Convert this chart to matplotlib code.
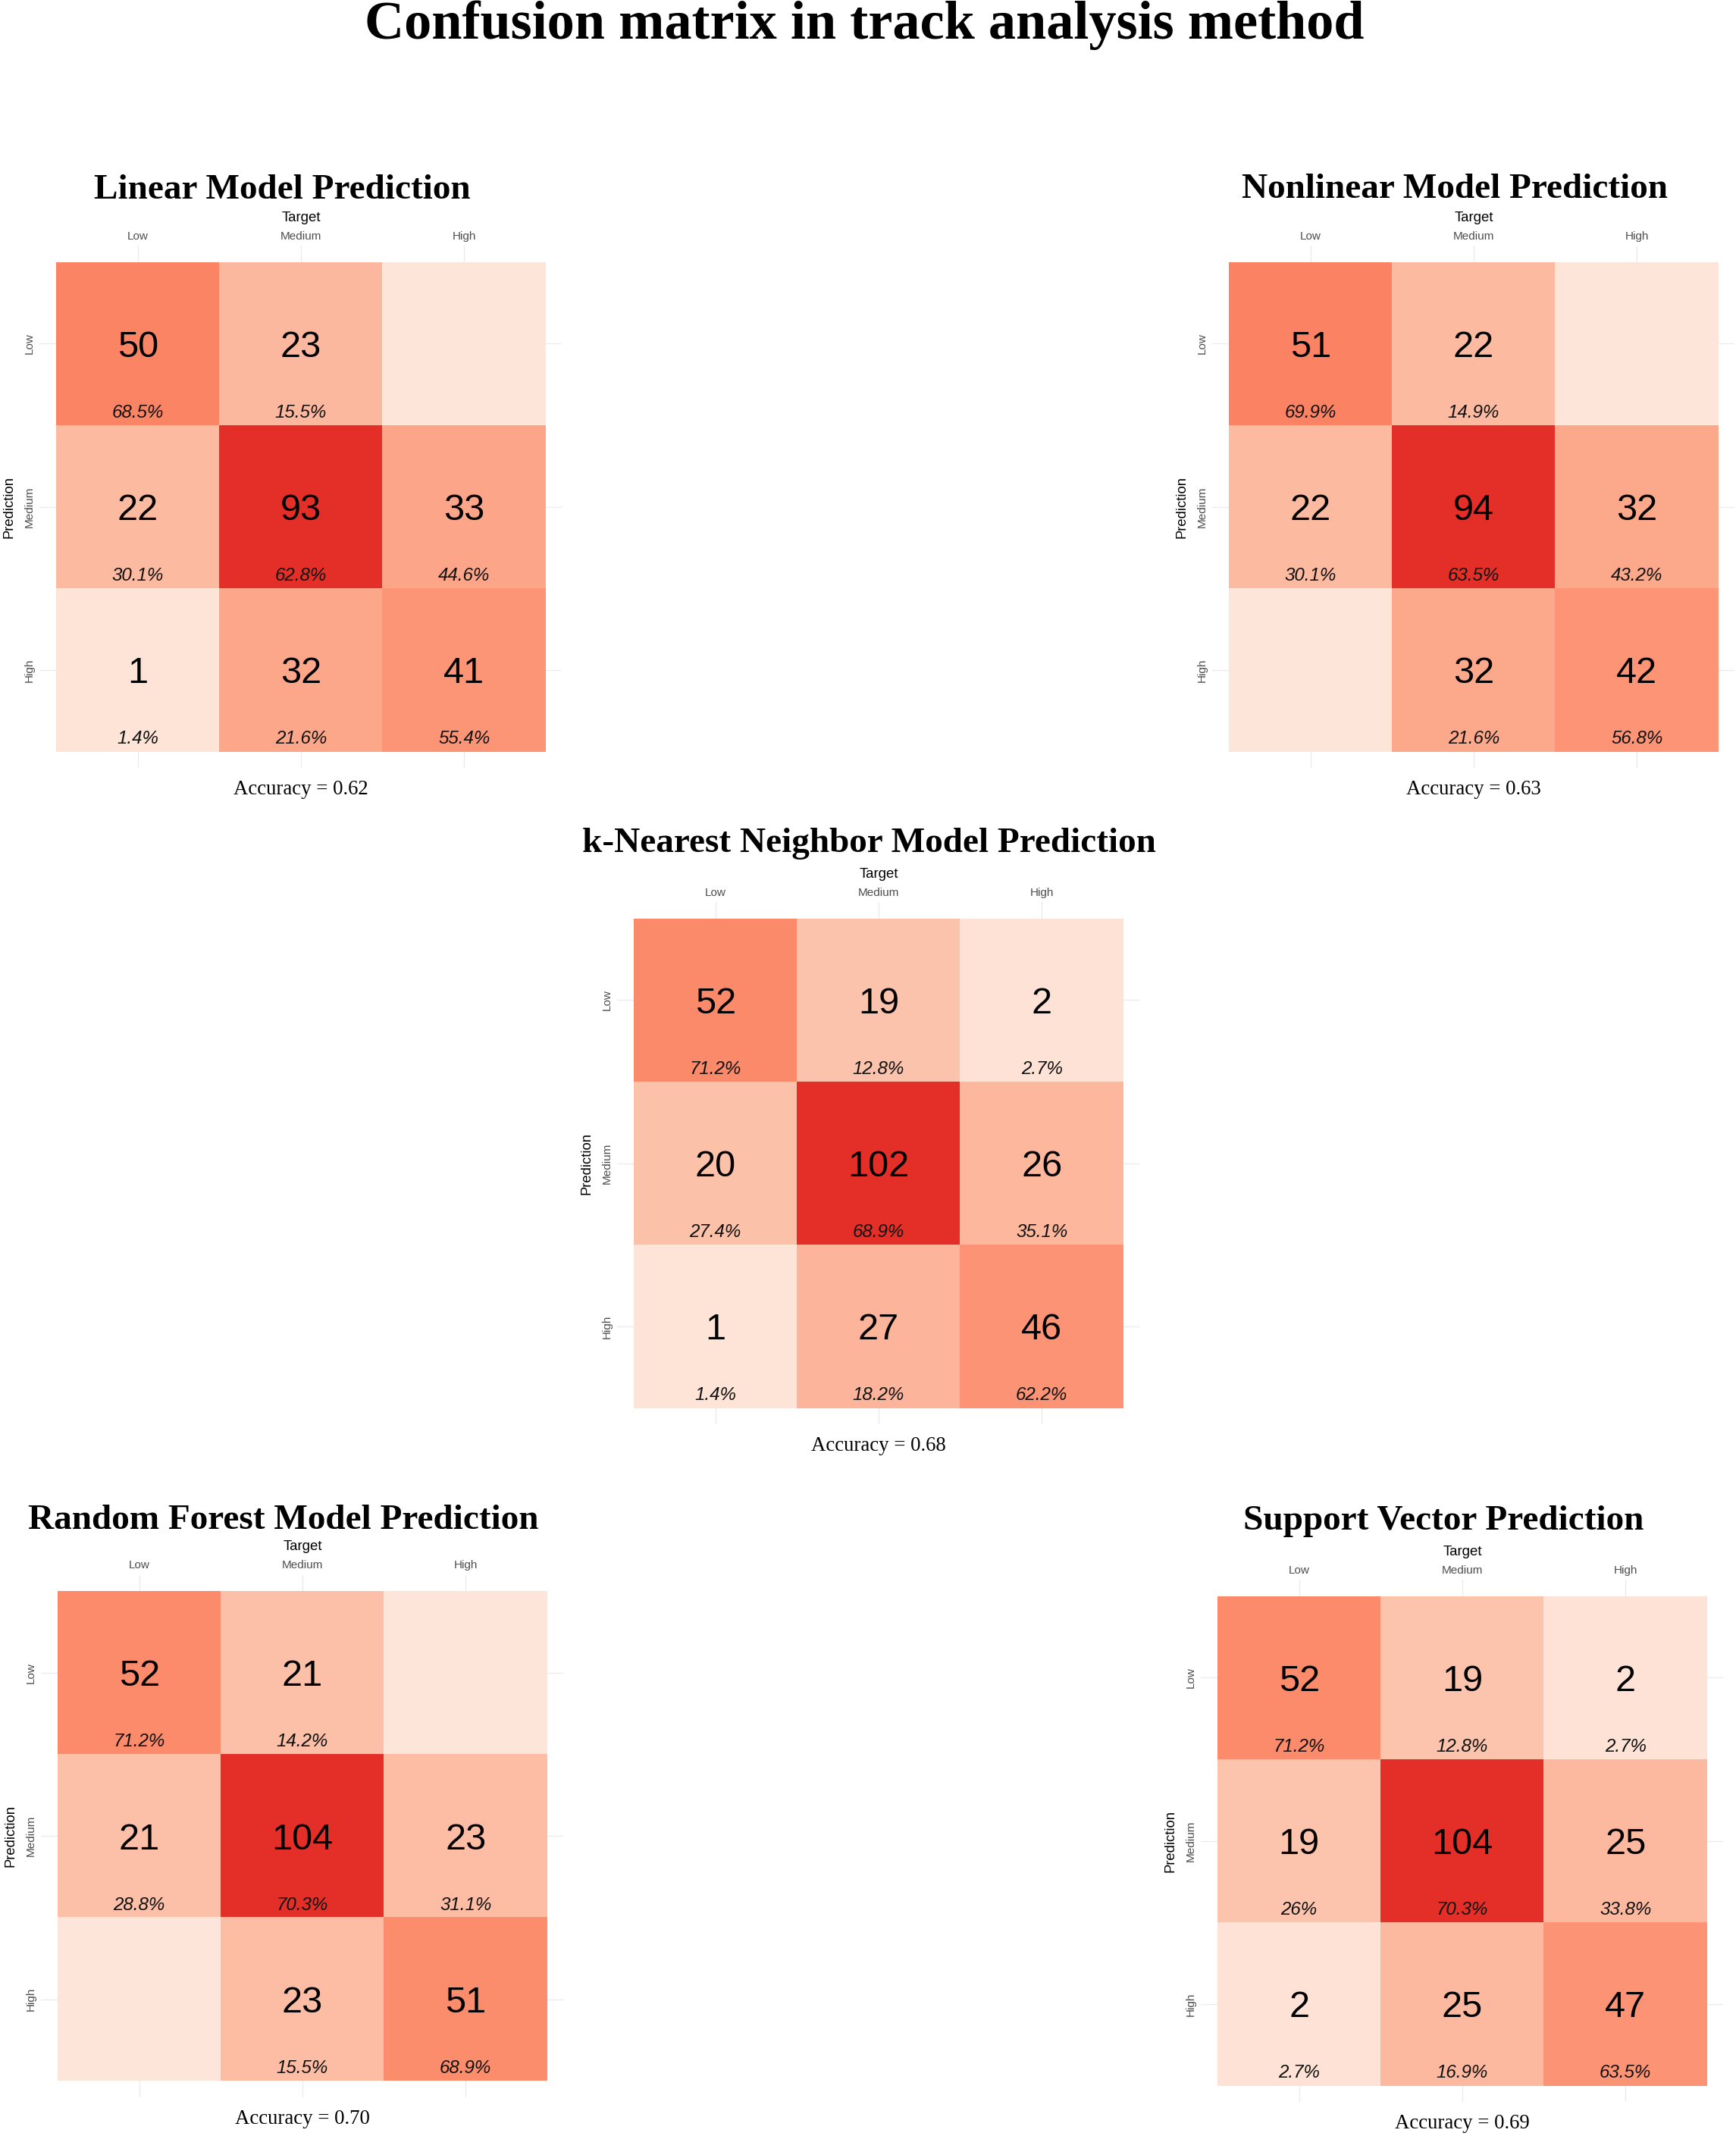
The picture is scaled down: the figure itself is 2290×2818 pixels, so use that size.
import numpy as np
import matplotlib.pyplot as plt
from matplotlib.colors import LinearSegmentedColormap, Normalize

# --- figure geometry (pixels at dpi 100) ---
W, H = 2290, 2818
CELL = 215.3          # size of one tile
PAD = 0.1             # panel extends 0.1 cell beyond the tiles

SANS = "Liberation Sans"
SERIF = "Liberation Serif"

classes = ["Low", "Medium", "High"]

# counts[prediction row][target column]
linear_counts = [[50, 23, 0], [22, 93, 33], [1, 32, 41]]
nonlinear_counts = [[51, 22, 0], [22, 94, 32], [0, 32, 42]]
knn_counts = [[52, 19, 2], [20, 102, 26], [1, 27, 46]]
rf_counts = [[52, 21, 0], [21, 104, 23], [0, 23, 51]]
svm_counts = [[52, 19, 2], [19, 104, 25], [2, 25, 47]]

titles = ["Linear Model Prediction", "Nonlinear Model Prediction",
          "k-Nearest Neighbor Model Prediction", "Random Forest Model Prediction",
          "Support Vector Prediction"]
accuracies = ["0.62", "0.63", "0.68", "0.70", "0.69"]

# tile block left / top, title baseline and title shift, in pixels
panel_pos = [(74, 345.7, 261.7, -25), (1621, 345.7, 261.0, -25),
             (836, 1211.7, 1124.0, -13), (76, 2099.3, 2017.0, -25),
             (1606, 2105.7, 2018.3, -25)]

reds = LinearSegmentedColormap.from_list(
    "reds7", ["#fee5d9", "#fcbba1", "#fc9272", "#fb6a4a",
              "#ef3b2c", "#cb181d", "#99000d"])


def fx(x):
    return x / W


def fy(y):
    return 1 - y / H


def fmt_pct(p):
    return f"{round(p, 1):g}%"


def draw_panel(fig, counts, title, acc, pos):
    left, top, title_base, title_dx = pos
    counts = np.array(counts)
    size = 3 * CELL
    ext = (3 + 2 * PAD) * CELL
    ax = fig.add_axes([fx(left - PAD * CELL), fy(top + size + PAD * CELL),
                       ext / W, ext / H])

    norm = Normalize(vmin=0, vmax=counts.max() / 0.72)
    ax.imshow(counts, cmap=reds, norm=norm, interpolation="nearest",
              extent=(-0.5, 2.5, 2.5, -0.5), aspect="auto", zorder=1)
    ax.set_xlim(-0.5 - PAD, 2.5 + PAD)
    ax.set_ylim(2.5 + PAD, -0.5 - PAD)

    col_sums = counts.sum(axis=0)
    for r in range(3):
        for c in range(3):
            n = counts[r, c]
            if n == 0:
                continue
            ax.text(c, r + 0.081, str(n), ha="center", va="baseline",
                    fontsize=35, family=SANS, color="black", zorder=3)
            ax.text(c, r + 0.453, fmt_pct(100 * n / col_sums[c]), ha="center",
                    va="baseline", fontsize=17.4, family=SANS, style="italic",
                    color="#111111", zorder=3)

    # ggplot-like minimal theme
    for s in ax.spines.values():
        s.set_visible(False)
    ax.set_axisbelow(True)
    ax.grid(True, color="#ebebeb", lw=1.0)
    ax.xaxis.tick_top()
    ax.set_xticks(range(3))
    ax.set_xticklabels(classes, va="baseline", fontsize=11, family=SANS,
                       color="#4d4d4d")
    ax.set_yticks(range(3))
    ax.set_yticklabels(classes, rotation=90, rotation_mode="anchor",
                       ha="center", va="baseline", fontsize=11, family=SANS,
                       color="#4d4d4d")
    ax.tick_params(axis="x", length=0, pad=6.1)
    ax.tick_params(axis="y", length=0, pad=6.8)

    cx = left + size / 2
    fig.text(fx(cx), fy(top - 54), "Target", ha="center", va="baseline",
             fontsize=13.4, family=SANS, color="black")
    fig.text(fx(left - 57.3), fy(top + size / 2), "Prediction", rotation=90,
             rotation_mode="anchor", ha="center", va="baseline",
             fontsize=13.3, family=SANS, color="black")
    fig.text(fx(cx), fy(top + size + 56.7), f"Accuracy = {acc}", ha="center",
             va="baseline", fontsize=19.3, family=SERIF, color="black")
    fig.text(fx(cx + title_dx), fy(title_base), title, ha="center",
             va="baseline", fontsize=34, fontweight="bold", family=SERIF,
             color="black")


fig = plt.figure(figsize=(W / 100, H / 100), dpi=100)
fig.patch.set_facecolor("white")

all_counts = [linear_counts, nonlinear_counts, knn_counts, rf_counts, svm_counts]
for counts, title, acc, pos in zip(all_counts, titles, accuracies, panel_pos):
    draw_panel(fig, counts, title, acc, pos)

fig.text(fx(1140), fy(50.7), "Confusion matrix in track analysis method",
         ha="center", va="baseline", fontsize=52, fontweight="bold",
         family=SERIF, color="black")

fig.savefig("out.png", dpi=100, facecolor="white")
